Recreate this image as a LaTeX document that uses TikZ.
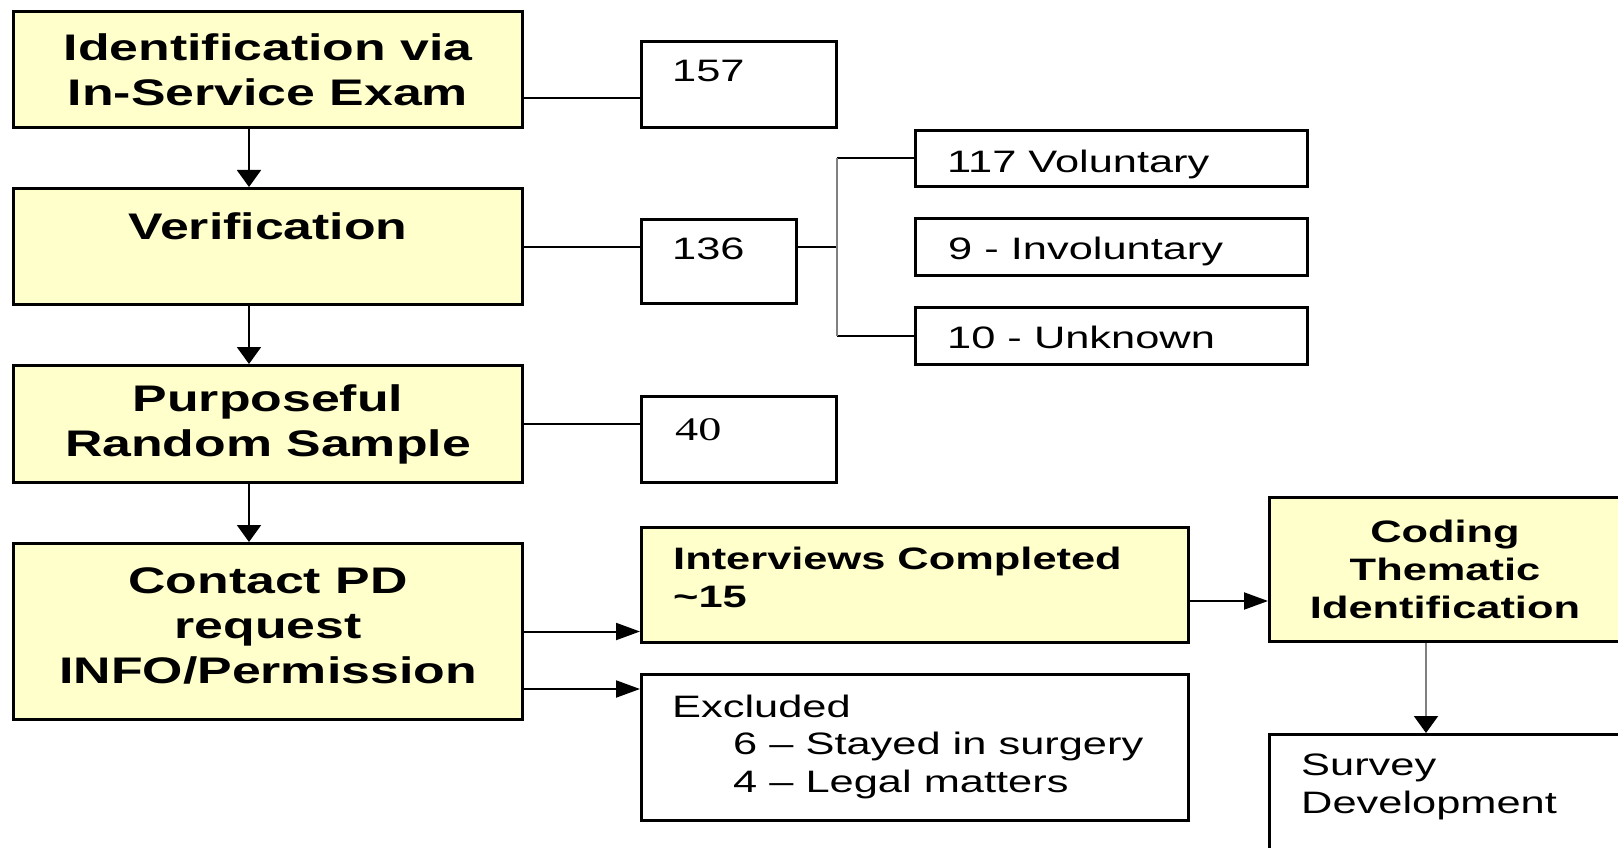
\documentclass[tikz,border=0pt]{standalone}
\usepackage{fontspec}
\usetikzlibrary{positioning,arrows.meta,calc}
\newfontfamily\hvfont[FakeStretch=1.4]{Liberation Sans}
\newfontfamily\tmfont[FakeStretch=1.4]{Liberation Serif}
\definecolor{boxY}{RGB}{255,255,204}
\definecolor{lnG}{RGB}{128,128,128}
\newcommand{\bigB}{\hvfont\bfseries\fontsize{37}{45}\selectfont}
\newcommand{\smB}{\hvfont\bfseries\fontsize{31}{37.5}\selectfont}
\newcommand{\smR}{\hvfont\fontsize{31}{37.5}\selectfont}

\begin{document}
\begin{tikzpicture}[x=1pt,y=-1pt,
   yb/.style={draw,line width=3pt,fill=boxY,inner sep=0pt},
   wb/.style={draw,line width=3pt,fill=white,inner sep=0pt},
   tx/.style={inner sep=0pt},
   ln/.style={line width=2pt},
   gln/.style={line width=2pt,draw=lnG},
   varr/.style={-{Triangle[length=17pt,width=24pt,color=black]}},
   harr/.style={-{Triangle[length=24pt,width=17pt]}}]
\useasboundingbox (0,0) rectangle (1618,848);
\clip (0,0) rectangle (1618,848);
%% ---- left column ----
\node[yb,minimum width=509,minimum height=116,align=center,font=\bigB] (ident) at (268,69.5) {Identification via\\In-Service Exam};
\node[yb,minimum width=509,minimum height=116] (verif) at (268,246.5) {};
\node[tx,anchor=base,font=\bigB] (tVer) at (268,239) {Verification};
\node[yb,minimum width=509,minimum height=117,align=center,font=\bigB] (purp) at (268,424) {Purposeful\\Random Sample};
\node[yb,minimum width=509,minimum height=176] (contact) at (268,631.5) {};
\node[tx,anchor=base,align=center,font=\bigB] (tCon) at (268,683) {Contact PD\\request\\INFO/Permission}; % base = last line
%% ---- counts ----
\node[wb,minimum width=195,minimum height=86] (n157) at (739,84.5) {};
\node[tx,anchor=base west,font=\smR] (t157) at (672,82) {157};
\node[wb,minimum width=155,minimum height=84] (n136) at (719,261.5) {};
\node[tx,anchor=base west,font=\smR] (t136) at (672,259) {136};
\node[wb,minimum width=195,minimum height=86] (n40) at (739,439) {};
\node[tx,anchor=base west,font=\tmfont\fontsize{33}{40}\selectfont] (t40) at (675,440) {40};
%% ---- reasons ----
\node[wb,minimum width=392,minimum height=56] (vol) at (1111.5,158.5) {};
\node[tx,anchor=base west,font=\smR] (tVol) at (947,172) {117 Voluntary};
\node[wb,minimum width=392,minimum height=57] (invol) at (1111.5,247) {};
\node[tx,anchor=base west,font=\smR] (tInv) at (948,259) {9 - Involuntary};
\node[wb,minimum width=392,minimum height=57] (unk) at (1111.5,336) {};
\node[tx,anchor=base west,font=\smR] (tUnk) at (947,348) {10 - Unknown};
%% ---- lower part ----
\node[yb,minimum width=547,minimum height=115] (interv) at (915,585) {};
\node[tx,anchor=base west,align=left,font=\smB] (tInt) at (673,607) {Interviews Completed\\\textasciitilde15};
\node[wb,minimum width=547,minimum height=146] (excl) at (915,747.5) {};
\node[tx,anchor=base west,align=left,font=\smR] (tExc) at (672,792) {Excluded\\\hspace*{61pt}6 \textendash{} Stayed in surgery\\\hspace*{61pt}4 \textendash{} Legal matters};
\node[yb,minimum width=351,minimum height=144,align=center,font=\hvfont\bfseries\fontsize{31}{38}\selectfont] (coding) at (1445,569.5) {Coding\\Thematic\\Identification};
\node[wb,minimum width=351,minimum height=144] (survey) at (1445,806.5) {};
\node[tx,anchor=base west,align=left,font=\hvfont\fontsize{31}{38}\selectfont] (tSur) at (1301,813) {Survey\\Development};
%% ---- connectors ----
\coordinate (j157) at (580,98);
\coordinate (brk) at (837,247);
\coordinate (jExc) at (580,689);
\coordinate (jCod) at (1230,601);
\coordinate (jSur) at (1426,690);
\draw[ln] (ident.east |- j157) -- (n157.west |- j157);
\draw[ln] (verif.east) -- (verif.east -| n136.west);
\draw[ln] (purp.east) -- (purp.east -| n40.west);
\draw[ln] (n136.east |- brk) -- (brk);
\draw[ln] (vol.west) -- (vol.west -| brk);
\draw[ln] (unk.west) -- (unk.west -| brk);
\draw[gln] (vol.west -| brk) -- (unk.west -| brk);
\draw[ln,varr] ([xshift=-19pt]ident.south) -- ([xshift=-19pt]verif.north);
\draw[ln,varr] ([xshift=-19pt]verif.south) -- ([xshift=-19pt]purp.north);
\draw[ln,varr] ([xshift=-19pt]purp.south) -- ([xshift=-19pt]contact.north);
\draw[ln,harr] (contact.east) -- (contact.east -| interv.west);
\draw[ln,harr] (contact.east |- jExc) -- (excl.west |- jExc);
\draw[ln,harr] (interv.east |- jCod) -- (coding.west |- jCod);
\draw[gln,varr] (coding.south -| jSur) -- (survey.north -| jSur);
\end{tikzpicture}
\end{document}
